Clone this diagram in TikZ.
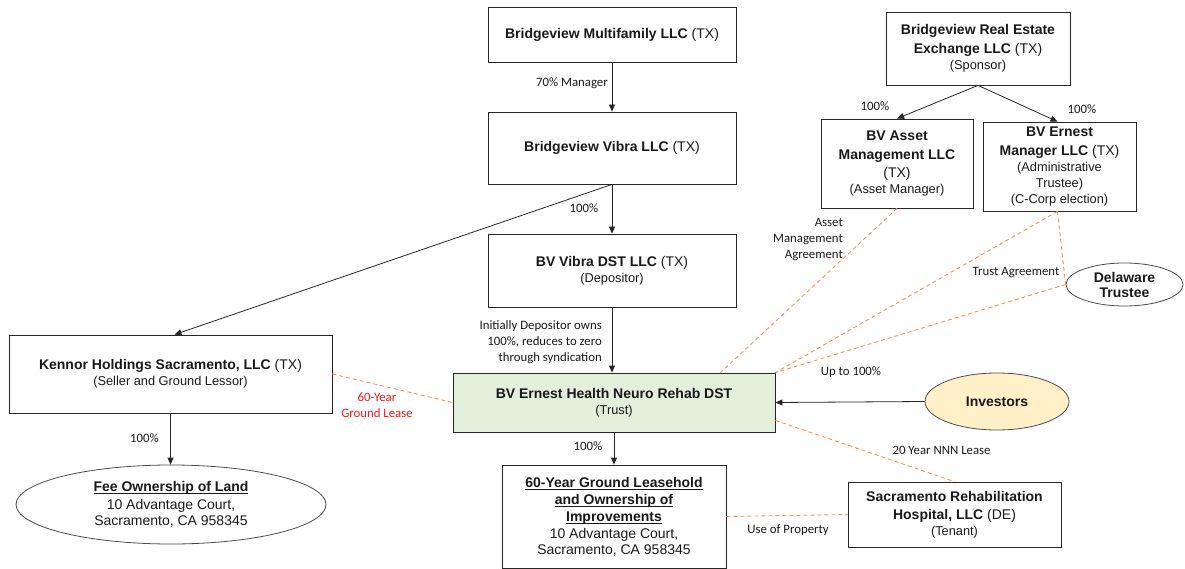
\documentclass[tikz,border=0pt]{standalone}
\usepackage{fontspec}
\setmainfont{Liberation Sans}
\newfontfamily\labfont{Carlito}
\usetikzlibrary{arrows.meta,shapes.geometric,calc}
\definecolor{trustgreen}{RGB}{226,239,218}
\definecolor{invyellow}{RGB}{255,240,200}
\definecolor{dashorange}{RGB}{241,150,90}
\definecolor{leasered}{RGB}{255,20,20}
\definecolor{txt}{RGB}{25,25,25}
\newcommand\subln[1]{{\fontsize{12.8}{16}\selectfont #1}}
\newcommand\myul[1]{\setbox0\hbox{#1}\rlap{\rule[-2.2pt]{\wd0}{0.8pt}}\box0}
\begin{document}
\begin{tikzpicture}[x=1pt,y=-1pt,
  box/.style={draw=black!85, line width=0.8pt, rectangle, inner sep=0pt, align=center,
    font=\fontsize{14}{16}\selectfont, text=txt},
  oval/.style={draw=black!70, line width=0.8pt, ellipse, inner sep=0pt, align=center,
    font=\fontsize{14}{16}\selectfont, text=txt},
  arr/.style={draw=black!85, line width=0.8pt, -{Triangle[length=7pt,width=6pt]}},
  link/.style={draw=dashorange, line width=0.9pt, dash pattern=on 4pt off 3pt},
  lab/.style={font=\labfont\fontsize{12.8}{16}\selectfont, text=txt, inner sep=0pt, align=center}]
\path[use as bounding box] (0,0) rectangle (1185,569);

% boxes
\node[box, minimum width=248, minimum height=55] (mf) at (612,34.5) {\textbf{Bridgeview Multifamily LLC} (TX)};
\node[box, minimum width=248, minimum height=72] (vibra) at (612,148) {\textbf{Bridgeview Vibra LLC} (TX)};
\node[box, minimum width=248, minimum height=73] (dst) at (612,270.5) {\textbf{BV Vibra DST LLC} (TX)\\ \subln{(Depositor)}};
\node[box, minimum width=323, minimum height=78] (kennor) at (170.5,374) {\textbf{Kennor Holdings Sacramento, LLC} (TX)\\ \subln{(Seller and Ground Lessor)}};
\node[oval, minimum width=310, minimum height=79] (fee) at (171,504.5) {\myul{\textbf{Fee Ownership of Land}}\\[2pt] 10 Advantage Court,\\ Sacramento, CA 958345};
\node[box, fill=trustgreen, minimum width=322, minimum height=59] (trust) at (614,402.5) {\textbf{BV Ernest Health Neuro Rehab DST}\\ \subln{(Trust)}};
\node[box, minimum width=224, minimum height=103] (lease) at (614,516.5) {\myul{\textbf{60-Year Ground Leasehold}}\\[1pt] \myul{\textbf{and Ownership of}}\\[1pt] \myul{\textbf{Improvements}}\\[1pt] 10 Advantage Court,\\ Sacramento, CA 958345};
\node[box, minimum width=213, minimum height=65] (hosp) at (954.5,514.5) {\textbf{Sacramento Rehabilitation}\\[2pt] \textbf{Hospital, LLC} (DE)\\ \subln{(Tenant)}};
\node[oval, fill=invyellow, minimum width=144, minimum height=57] (inv) at (997,401.5) {\textbf{Investors}};
\node[box, minimum width=184, minimum height=73] (sponsor) at (978,48.5) {\textbf{Bridgeview Real Estate}\\[3pt] \textbf{Exchange LLC} (TX)\\ \subln{(Sponsor)}};
\node[box, minimum width=152, minimum height=89] (asset) at (897,163.5) {\textbf{BV Asset}\\[3pt] \textbf{Management LLC}\\[2pt] (TX)\\ \subln{(Asset Manager)}};
\node[box, minimum width=153, minimum height=89] (ernest) at (1059.5,166.5) {\textbf{BV Ernest}\\[3pt] \textbf{Manager LLC} (TX)\\ \subln{(Administrative}\\ \subln{Trustee)}\\ \subln{(C-Corp election)}};
\node[oval, minimum width=117, minimum height=43] (del) at (1124.5,284.5) {\textbf{Delaware}\\[-1pt] \textbf{Trustee}};

% solid arrows
\draw[arr] (mf.south) -- (vibra.north);
\draw[arr] (vibra.south) -- (dst.north);
\draw[arr] (vibra.south) -- ([xshift=4pt]kennor.north);
\draw[arr] (dst.south) -- (dst.south |- trust.north);
\draw[arr] (trust.south) -- (lease.north);
\draw[arr] (kennor.south) -- (kennor.south |- fee.north);
\draw[arr] (sponsor.south) -- (asset.north);
\draw[arr] (sponsor.south) -- ([xshift=-2pt]ernest.north);
\draw[arr] (inv.west) -- (trust.east);

% dashed agreements
\draw[link] (kennor.east) -- (trust.west);
\draw[link] (asset.south) -- ([xshift=-55pt]trust.north east);
\draw[link] ([xshift=-2pt]ernest.south) -- (trust.north east);
\draw[link] ([xshift=-2pt]ernest.south) -- (del.west);
\draw[link] (del.west) -- (trust.north east);
\draw[link] ([yshift=12pt]trust.south east) -- (hosp.north);
\draw[link] (lease.east) -- (hosp.west);

% labels
\node[lab, anchor=east] (l70) at (608,83) {70\% Manager};
\node[lab] (l100a) at (584,208) {100\%};
\node[lab, anchor=east, align=right] (linit) at (602,342) {Initially Depositor owns\\ 100\%, reduces to zero\\ through syndication};
\node[lab] (l100b) at (588,446) {100\%};
\node[lab] (l100c) at (144.5,438) {100\%};
\node[lab, text=leasered] (lground) at (377,405) {60-Year\\ Ground Lease};
\node[lab] (l100d) at (875,106) {100\%};
\node[lab] (l100e) at (1082,109) {100\%};
\node[lab, anchor=east, align=right] (lasset) at (843,239) {Asset\\ Management\\ Agreement};
\node[lab] (ltrust) at (1016,272) {Trust Agreement};
\node[lab] (lup) at (851,372) {Up to 100\%};
\node[lab] (lnnn) at (941.5,450) {20 Year NNN Lease};
\node[lab] (luse) at (788,530) {Use of Property};
\end{tikzpicture}
\end{document}
